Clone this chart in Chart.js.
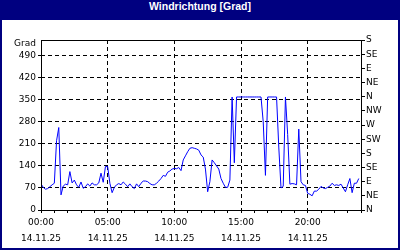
<!DOCTYPE html>
<html>
<head>
<meta charset="utf-8">
<script src="https://cdn.jsdelivr.net/npm/chart.js@4.4.1/dist/chart.umd.min.js"></script>
<style>
  html, body { margin: 0; padding: 0; background: #fff; }
  #wrap { position: relative; width: 400px; height: 250px; background: #000080; overflow: hidden; }
  #head { height: 20px; line-height: 20px; text-align: center; color: #fff;
          font: bold 10.5px "Liberation Sans", Arial, sans-serif; }
  #cv { position: absolute; left: 2px; top: 20px; background: #fff; }
</style>
</head>
<body>
<div id="wrap">
  <div id="head">Windrichtung [Grad]</div>
  <canvas id="cv" width="396" height="228"></canvas>
</div>
<script>
// wind direction in degrees, one value every 10 minutes from 00:00
var stepMin = 10;
var dirValues = [
  83, 72, 66, 68, 74, 80, 85, 220, 262, 48,
  76, 82, 80, 122, 86, 95, 80, 72, 89, 69,
  74, 83, 76, 86, 80, 80, 86, 117, 88, 138,
  138, 85, 55, 72, 80, 84, 80, 89, 82, 74,
  83, 74, 68, 83, 74, 85, 92, 92, 90, 84,
  80, 80, 85, 92, 100, 110, 107, 120, 124, 130,
  132, 131, 135, 125, 159, 172, 185, 196, 198, 196,
  194, 190, 175, 168, 130, 58, 90, 159, 150, 140,
  130, 100, 85, 72, 72, 95, 359, 150, 359, 359,
  359, 359, 359, 359, 359, 359, 359, 359, 359, 359,
  280, 110, 359, 359, 359, 359, 359, 200, 70, 75,
  359, 240, 82, 84, 83, 80, 257, 90, 80, 78,
  53, 50, 45, 60, 60, 66, 75, 70, 68, 72,
  76, 85, 78, 80, 78, 82, 70, 58, 80, 100,
  55, 85, 85, 100
];

var gradTicks = [0, 70, 140, 210, 280, 350, 420, 490];
var dirTicks = [0, 45, 90, 135, 180, 225, 270, 315, 360, 405, 450, 495, 540];
var dirLabels = ['N', 'NE', 'E', 'SE', 'S', 'SW', 'W', 'NW', 'N', 'NE', 'E', 'SE', 'S'];
var labelHours = [0, 5, 10, 15, 20];
var timeLabels = ['00:00', '05:00', '10:00', '15:00', '20:00'];
var dateLabel = '14.11.25';
var yUnit = 'Grad';

var points = dirValues.map(function (v, i) { return { x: i * stepMin / 60, y: v }; });

var fnt = { family: '"DejaVu Sans", sans-serif', size: 9 };

var frame = {
  id: 'frame',
  afterDraw: function (chart) {
    var ctx = chart.ctx, a = chart.chartArea;
    ctx.save();
    ctx.strokeStyle = '#000';
    ctx.lineWidth = 1;
    ctx.strokeRect(Math.round(a.left) + 0.5, Math.round(a.top) + 0.5,
                   Math.round(a.right - a.left), Math.round(a.bottom - a.top));
    ctx.fillStyle = '#000';
    ctx.font = '9px "DejaVu Sans", sans-serif';
    ctx.textAlign = 'right';
    ctx.textBaseline = 'middle';
    ctx.fillText(yUnit, a.left - 5, a.top + 4);
    ctx.restore();
  }
};

var ctx = document.getElementById('cv').getContext('2d');
var myChart = new Chart(ctx, {
  type: 'line',
  data: {
    datasets: [{
      data: points,
      borderColor: '#0000ff',
      borderWidth: 1,
      pointRadius: 0,
      tension: 0,
      fill: false
    }]
  },
  options: {
    responsive: false,
    animation: false,
    layout: { padding: { top: 20, left: 0, right: 0, bottom: 0 } },
    plugins: { legend: { display: false }, tooltip: { enabled: false } },
    scales: {
      x: {
        type: 'linear', min: 0, max: 24,
        afterFit: function (s) { s.height = 38; },
        border: { display: false, dash: [4, 3] },
        grid: {
          color: function (c) {
            return (c.tick && labelHours.indexOf(c.tick.value) > 0) ? '#000' : 'rgba(0,0,0,0)';
          },
          tickColor: '#000', tickLength: 3, tickBorderDash: []
        },
        ticks: {
          stepSize: 1, autoSkip: false, maxRotation: 0, padding: 2, color: '#000',
          font: { family: fnt.family, size: 9, lineHeight: '16px' },
          callback: function (v) {
            var k = labelHours.indexOf(v);
            return k >= 0 ? [timeLabels[k], dateLabel] : '';
          }
        }
      },
      y: {
        position: 'left', min: 0, max: 540,
        afterBuildTicks: function (s) { s.ticks = gradTicks.map(function (v) { return { value: v }; }); },
        afterFit: function (s) { s.width = 39; },
        border: { display: false, dash: [4, 3] },
        grid: {
          color: function (c) { return (c.tick && c.tick.value > 0) ? '#000' : 'rgba(0,0,0,0)'; },
          tickColor: '#000', tickLength: 3, tickBorderDash: []
        },
        ticks: { padding: 2, color: '#000', font: fnt }
      },
      y2: {
        position: 'right', min: 0, max: 540,
        afterBuildTicks: function (s) { s.ticks = dirTicks.map(function (v) { return { value: v }; }); },
        afterFit: function (s) { s.width = 37; },
        border: { display: false },
        grid: { drawOnChartArea: false, tickColor: '#000', tickLength: 4 },
        ticks: {
          padding: 1, color: '#000', font: fnt,
          callback: function (v, i) { return dirLabels[i]; }
        }
      }
    }
  },
  plugins: [frame]
});
</script>
</body>
</html>
